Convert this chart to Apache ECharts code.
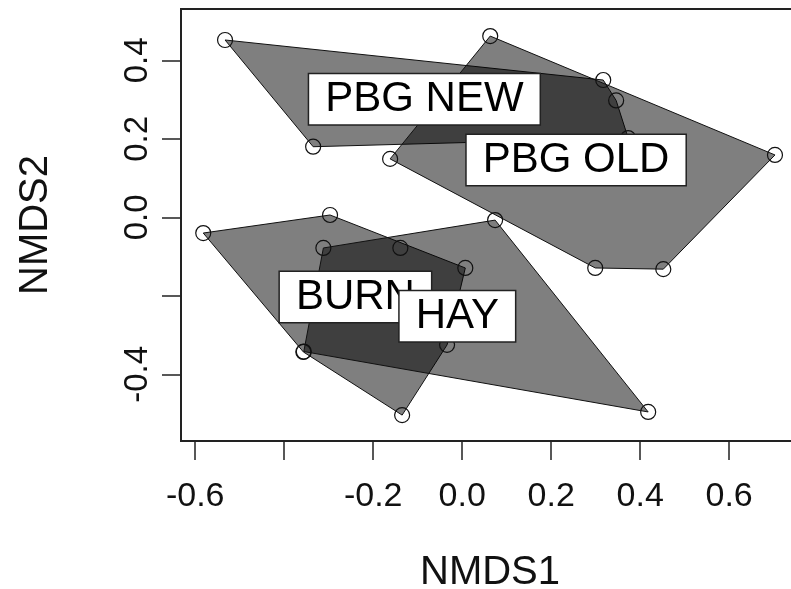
<!DOCTYPE html>
<html>
<head>
<meta charset="utf-8">
<script src="https://cdn.jsdelivr.net/npm/echarts@6/dist/echarts.min.js"></script>
<style>
  html, body { margin: 0; padding: 0; background: #fff; }
  #chart { width: 791px; height: 589px; }
</style>
</head>
<body>
<div id="chart"></div>
<script>
// hull vertices of each group (NMDS1 / NMDS2)
var burnX = [-0.582, -0.297, 0.007, -0.034, -0.135, -0.357];
var burnY = [-0.040, 0.006, -0.129, -0.325, -0.504, -0.343];
var hayX = [0.074, 0.418, -0.356, -0.312];
var hayY = [-0.007, -0.496, -0.342, -0.078];
var pbgNewX = [-0.533, 0.317, 0.346, 0.373, -0.335];
var pbgNewY = [0.452, 0.350, 0.298, 0.202, 0.180];
var pbgOldX = [0.063, 0.703, 0.452, 0.299, -0.162];
var pbgOldY = [0.462, 0.159, -0.132, -0.129, 0.149];
// sites inside a hull
var innerX = [-0.139];
var innerY = [-0.078];

var groupNames = ['BURN', 'HAY', 'PBG NEW', 'PBG OLD'];
var labelX = [-0.240, -0.011, -0.085, 0.256];
var labelY = [-0.203, -0.252, 0.301, 0.146];

var xTicks = [-0.6, -0.4, -0.2, 0.0, 0.2, 0.4, 0.6];
var xLabels = [-0.6, -0.2, 0.0, 0.2, 0.4, 0.6];
var yTicks = [-0.4, -0.2, 0.0, 0.2, 0.4];
var yLabels = [-0.4, 0.0, 0.2, 0.4];

var FONT = '"Liberation Sans", Arial, Helvetica, sans-serif';

function hullSeries(xs, ys) {
  return {
    type: 'custom',
    silent: true,
    data: [[xs[0], ys[0]]],
    renderItem: function (params, api) {
      var pts = xs.map(function (x, i) { return api.coord([x, ys[i]]); });
      return {
        type: 'polygon',
        shape: { points: pts },
        style: { fill: 'rgba(0,0,0,0.5)', stroke: '#111', lineWidth: 1 }
      };
    }
  };
}

function pairs(xs, ys) {
  return xs.map(function (x, i) { return [x, ys[i]]; });
}

var sites = [].concat(
  pairs(burnX, burnY), pairs(hayX, hayY),
  pairs(pbgNewX, pbgNewY), pairs(pbgOldX, pbgOldY),
  pairs(innerX, innerY)
);

var chart = echarts.init(document.getElementById('chart'));
chart.setOption({
  backgroundColor: '#fff',
  animation: false,
  textStyle: { fontFamily: FONT },
  grid: {
    left: 181, top: 9, right: -8, bottom: 148,
    outerBoundsMode: 'none',
    containLabel: false,
    show: true, borderColor: '#222', borderWidth: 2
  },
  xAxis: {
    type: 'value',
    min: -0.632,
    max: 0.757,
    axisLine: { show: false, onZero: false },
    splitLine: { show: false },
    axisTick: { show: true, customValues: xTicks, length: 19, lineStyle: { color: '#222', width: 1.5 } },
    axisLabel: {
      customValues: xLabels, fontSize: 34, color: '#111', margin: 39, fontFamily: FONT,
      formatter: function (v) { return v.toFixed(1); }
    },
    name: 'NMDS1',
    nameLocation: 'middle',
    nameGap: 112,
    nameTextStyle: { fontSize: 40, color: '#111', fontFamily: FONT }
  },
  yAxis: {
    type: 'value',
    min: -0.570,
    max: 0.531,
    axisLine: { show: false, onZero: false },
    splitLine: { show: false },
    axisTick: { show: true, customValues: yTicks, length: 19, lineStyle: { color: '#222', width: 1.5 } },
    axisLabel: {
      customValues: yLabels, fontSize: 33, color: '#111', margin: 27, rotate: 90, fontFamily: FONT,
      formatter: function (v) { return v.toFixed(1); }
    },
    name: 'NMDS2',
    nameLocation: 'middle',
    nameRotate: 90,
    nameGap: 125,
    nameTextStyle: { fontSize: 40, color: '#111', fontFamily: FONT }
  },
  series: [
    hullSeries(burnX, burnY),
    hullSeries(hayX, hayY),
    hullSeries(pbgNewX, pbgNewY),
    hullSeries(pbgOldX, pbgOldY),
    {
      type: 'scatter',
      silent: true,
      symbol: 'circle',
      symbolSize: 15,
      itemStyle: { color: 'transparent', borderColor: '#111', borderWidth: 1.2, opacity: 1 },
      data: sites
    },
    {
      type: 'scatter',
      silent: true,
      symbolSize: 0,
      itemStyle: { opacity: 1 },
      data: groupNames.map(function (n, i) { return { name: n, value: [labelX[i], labelY[i]] }; }),
      label: {
        show: true,
        position: 'inside',
        formatter: '{b}',
        fontSize: 42,
        lineHeight: 44,
        color: '#000',
        fontFamily: FONT,
        backgroundColor: '#fff',
        borderColor: '#222',
        borderWidth: 1.5,
        padding: [3, 16]
      }
    }
  ]
});
</script>
</body>
</html>
